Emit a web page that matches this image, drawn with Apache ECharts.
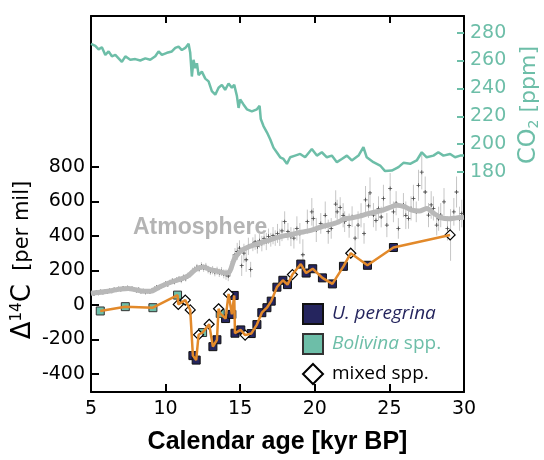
<!DOCTYPE html>
<html>
<head>
<meta charset="utf-8">
<title>Radiocarbon and CO2</title>
<script src="https://cdn.jsdelivr.net/npm/echarts@6/dist/echarts.min.js"></script>
<style>
  html, body { margin: 0; padding: 0; background: #fff; }
  #chart { width: 544px; height: 460px; }
</style>
</head>
<body>
<div id="chart"></div>
<script>
// tick labels
const deltaTicks = [-400, -200, 0, 200, 400, 600, 800];
const co2Ticks = [180, 200, 220, 240, 260, 280];

// ice core CO2 [ppm]
const co2Age = [5.0, 5.13, 5.29, 5.51, 5.73, 5.96, 6.18, 6.40, 6.63, 6.85, 7.07, 7.30, 7.63, 7.97, 8.30, 8.64, 8.97, 9.31, 9.53, 9.75, 10.09, 10.42, 10.65, 10.87, 11.09, 11.32, 11.54, 11.65, 11.76, 11.87, 11.99, 12.10, 12.21, 12.43, 12.66, 12.88, 13.10, 13.33, 13.55, 13.77, 13.99, 14.22, 14.44, 14.60, 14.78, 14.89, 15.0, 15.22, 15.45, 15.78, 16.12, 16.30, 16.38, 16.56, 16.79, 17.01, 17.23, 17.46, 17.68, 17.90, 18.13, 18.35, 18.68, 19.02, 19.35, 19.80, 20.14, 20.47, 20.81, 21.14, 21.48, 21.81, 22.15, 22.48, 22.93, 23.26, 23.48, 23.93, 24.38, 24.71, 25.16, 25.61, 25.94, 26.39, 26.83, 27.17, 27.50, 27.95, 28.28, 28.62, 29.07, 29.40, 29.74, 30.0];
const co2Val = [272, 272, 270.5, 268, 269.5, 264, 266.5, 263, 264, 261.5, 259, 263, 260.5, 261, 260, 261.5, 260.5, 263, 266.5, 264, 265.5, 266.5, 269, 270, 267.5, 269, 272, 265.5, 248.5, 260.5, 254.5, 258, 249.5, 252, 247, 245, 238, 235.5, 240.5, 242.5, 239, 243.5, 240.5, 242.5, 234.5, 226, 232, 228.5, 225, 223.5, 225, 227.5, 218, 213, 208.5, 203.5, 197.5, 194, 190.6, 189.4, 185.9, 190.6, 191.8, 193, 190.6, 196.6, 191.8, 194.2, 190.6, 191.8, 187.1, 189.4, 191.8, 188.3, 191.8, 197.8, 190.6, 187.1, 184.7, 180.7, 181.1, 183.5, 186.6, 185.9, 188.3, 194.2, 190.6, 191.8, 194.2, 191.8, 193, 190.6, 191.8, 191.8];

// atmospheric D14C, smoothed curve
const atmLineAge = [5.0, 5.5, 6.0, 6.5, 7.0, 7.5, 8.0, 8.5, 9.0, 9.5, 10.0, 10.5, 11.0, 11.5, 12.0, 12.5, 13.0, 13.5, 14.0, 14.3, 14.6, 15.0, 15.5, 16.0, 16.5, 17.0, 17.5, 18.0, 18.5, 19.0, 19.5, 20.0, 20.5, 21.0, 21.5, 22.0, 22.5, 23.0, 23.5, 24.0, 24.5, 25.0, 25.5, 26.0, 26.5, 27.0, 27.5, 28.0, 28.5, 29.0, 29.5, 30.0];
const atmLineVal = [68, 72, 78, 85, 92, 95, 88, 80, 80, 100, 120, 136, 150, 168, 205, 220, 205, 195, 185, 195, 265, 310, 335, 350, 365, 378, 392, 402, 410, 420, 428, 440, 455, 465, 478, 500, 505, 515, 528, 538, 548, 565, 578, 570, 550, 545, 560, 530, 505, 500, 505, 508];

// atmospheric D14C, single measurements with 1-sigma
const atmAge = [5.05, 5.2, 5.35, 5.5, 5.65, 5.8, 5.95, 6.1, 6.25, 6.4, 6.55, 6.7, 6.85, 7.0, 7.15, 7.3, 7.45, 7.6, 7.75, 7.9, 8.05, 8.2, 8.35, 8.5, 8.65, 8.8, 8.95, 9.1, 9.25, 9.4, 9.55, 9.7, 9.85, 10.0, 10.15, 10.3, 10.45, 10.6, 10.75, 10.9, 11.05, 11.2, 11.35, 11.5, 11.65, 11.8, 11.95, 12.1, 12.25, 12.4, 12.55, 12.7, 12.85, 13.0, 13.15, 13.3, 13.45, 13.6, 13.75, 13.9, 14.05, 14.2, 14.35, 14.5, 14.65, 14.8, 14.95, 15.1, 15.25, 15.4, 15.55, 15.7, 15.85, 16.0, 16.15, 16.3, 16.45, 16.6, 16.75, 16.9, 17.05, 17.2, 17.35, 17.5, 17.65, 17.8, 17.98, 18.2, 18.4, 18.6, 18.8, 19.0, 19.2, 19.5, 19.8, 19.9, 20.1, 20.4, 20.7, 20.9, 21.1, 21.4, 21.5, 21.7, 21.9, 22.0, 22.3, 22.5, 22.7, 22.9, 23.1, 23.3, 23.4, 23.6, 23.7, 23.93, 24.1, 24.27, 24.45, 24.6, 24.83, 25.05, 25.27, 25.45, 25.6, 25.94, 26.1, 26.28, 26.45, 26.61, 26.8, 26.95, 27.17, 27.4, 27.62, 27.8, 27.95, 28.17, 28.3, 28.44, 28.66, 28.89, 29.1, 29.32, 29.5, 29.7, 29.85];
const atmVal = [70, 64, 74, 68, 78, 72, 80, 76, 84, 80, 90, 86, 94, 90, 98, 94, 100, 92, 96, 88, 84, 90, 78, 82, 74, 80, 76, 86, 94, 102, 98, 108, 116, 124, 118, 132, 140, 134, 146, 152, 144, 160, 154, 170, 178, 196, 205, 218, 210, 226, 214, 222, 205, 196, 202, 190, 198, 186, 194, 180, 176, 168, 205, 250, 290, 310, 330, 228, 300, 262, 340, 205, 352, 365, 338, 372, 356, 385, 368, 398, 378, 402, 388, 415, 392, 430, 483, 425, 396, 387, 444, 415, 291, 483, 540, 502, 435, 473, 520, 425, 444, 585, 540, 565, 520, 483, 460, 512, 387, 463, 520, 415, 610, 575, 650, 521, 490, 560, 510, 617, 463, 675, 540, 590, 444, 579, 520, 502, 560, 617, 540, 694, 770, 655, 521, 580, 560, 463, 500, 521, 598, 444, 406, 540, 655, 500, 530];
const atmErr = [10, 10, 10, 10, 10, 10, 10, 10, 10, 10, 12, 12, 12, 12, 12, 12, 12, 12, 12, 12, 12, 12, 12, 12, 12, 12, 12, 14, 14, 14, 14, 14, 14, 14, 14, 16, 16, 16, 16, 16, 18, 18, 18, 18, 18, 20, 20, 20, 20, 22, 22, 22, 22, 22, 24, 24, 24, 24, 26, 26, 30, 30, 35, 45, 40, 50, 45, 60, 55, 70, 50, 45, 40, 45, 40, 40, 45, 40, 50, 45, 40, 50, 45, 55, 50, 60, 60, 50, 55, 60, 70, 60, 90, 70, 80, 60, 70, 60, 80, 70, 60, 80, 70, 60, 70, 60, 70, 60, 70, 80, 70, 60, 80, 70, 90, 70, 60, 70, 60, 80, 70, 90, 60, 70, 60, 70, 80, 60, 70, 80, 60, 90, 100, 90, 70, 80, 70, 60, 70, 70, 80, 70, 150, 80, 90, 70, 80];

// foraminifera D14C
const perAge = [11.83, 12.05, 13.17, 13.44, 14.02, 14.44, 14.60, 14.65, 15.04, 15.74, 16.12, 16.45, 16.79, 17.08, 17.46, 17.86, 18.17, 19.06, 19.42, 19.86, 20.51, 21.18, 21.92, 23.53, 25.27];
const perVal = [-294, -320, -242, -202, -79, -55, 55, -164, -145, -166, -114, -45, -16, 22, 103, 143, 118, 237, 185, 210, 157, 122, 224, 230, 333];
const bolAge = [5.62, 7.30, 9.15, 10.80, 12.48, 13.66];
const bolVal = [-35, -10, -16, 57, -160, -49];
const mixAge = [10.85, 11.32, 11.65, 12.21, 12.92, 13.55, 14.22, 15.33, 18.50, 22.41, 29.07];
const mixVal = [3, 28, -29, -173, -112, -22, 64, -175, 176, 300, 406];

const GREEN = '#6dbea8';
const NAVY = '#25255e';
const ORANGE = '#e2892a';

const zip = (a, b) => a.map((v, i) => [v, b[i]]);
const perData = zip(perAge, perVal);
const bolData = zip(bolAge, bolVal);
const mixData = zip(mixAge, mixVal);
const foramLine = [...perData, ...bolData, ...mixData].sort((p, q) => p[0] - q[0]);
const atmData = atmAge.map((a, i) => [a, atmVal[i], atmErr[i]]);

const chart = echarts.init(document.getElementById('chart'));

const tickFont = { fontFamily: 'DejaVu Sans', fontSize: 19 };

chart.setOption({
  animation: false,
  grid: { left: 91, right: 80, top: 16, bottom: 65 },
  xAxis: [{
    type: 'value', min: 5, max: 30, interval: 5, position: 'bottom',
    axisLine: { onZero: false, lineStyle: { color: '#000', width: 2 } },
    axisTick: { inside: true, length: 8, lineStyle: { color: '#000', width: 2 } },
    axisLabel: { ...tickFont, color: '#000', margin: 8 },
    splitLine: { show: false },
    name: 'Calendar age [kyr BP]', nameLocation: 'middle', nameGap: 38,
    nameTextStyle: { fontFamily: 'Liberation Sans', fontWeight: 'bold', fontSize: 25, color: '#000' }
  }, {
    type: 'value', min: 5, max: 30, interval: 5, position: 'top',
    axisLine: { onZero: false, lineStyle: { color: '#000', width: 2 } },
    axisTick: { inside: true, length: 7, lineStyle: { color: '#000', width: 2 } },
    axisLabel: { show: false },
    splitLine: { show: false }
  }],
  yAxis: [{
    type: 'value', min: -505, max: 1676, position: 'left',
    axisLine: { show: true, onZero: false, lineStyle: { color: '#000', width: 2 } },
    axisTick: { show: true, inside: true, length: 8, customValues: deltaTicks, lineStyle: { color: '#000', width: 2 } },
    axisLabel: { ...tickFont, customValues: deltaTicks, color: '#000', margin: 6 },
    splitLine: { show: false }
  }, {
    type: 'value', min: 22.3, max: 291.9, position: 'right',
    axisLine: { show: true, onZero: false, lineStyle: { color: '#000', width: 2 } },
    axisTick: { show: true, inside: true, length: 7, customValues: co2Ticks, lineStyle: { color: GREEN, width: 2 } },
    axisLabel: { ...tickFont, customValues: co2Ticks, color: GREEN, margin: 6 },
    splitLine: { show: false }
  }],
  legend: {
    orient: 'vertical', left: 297, top: 298,
    itemWidth: 20, itemHeight: 20, itemGap: 8,
    data: [
      { name: 'U. peregrina', icon: 'rect', textStyle: { color: NAVY, fontStyle: 'italic' } },
      { name: 'Bolivina spp.', icon: 'rect', textStyle: { color: GREEN } },
      { name: 'mixed spp.', icon: 'diamond', textStyle: { color: '#000' } }
    ],
    formatter: name => name === 'Bolivina spp.' ? '{i|Bolivina} spp.' : name,
    textStyle: {
      fontFamily: 'Open Sans', fontSize: 19, lineHeight: 20, padding: [0, 0, 0, 4],
      rich: { i: { fontFamily: 'Open Sans', fontSize: 19, lineHeight: 20, fontStyle: 'italic', color: GREEN } }
    }
  },
  graphic: [
    {
      type: 'text', x: 133, y: 228,
      style: { text: 'Atmosphere', fill: '#b4b4b4', font: 'bold 23px "Liberation Sans"', verticalAlign: 'middle' }
    },
    {
      type: 'text', x: 23, y: 260, rotation: Math.PI / 2,
      style: {
        text: '{a|Δ}{s|14}{a|C}{b|  [per mil]}', align: 'center', verticalAlign: 'middle', fill: '#000',
        rich: {
          a: { fontFamily: 'DejaVu Sans', fontSize: 26, fill: '#000' },
          s: { fontFamily: 'DejaVu Sans', fontSize: 15, fill: '#000', verticalAlign: 'top' },
          b: { fontFamily: 'DejaVu Sans', fontSize: 21, fill: '#000' }
        }
      }
    },
    {
      type: 'text', x: 529, y: 105, rotation: Math.PI / 2,
      style: {
        text: '{a|CO}{s|2}{b| [ppm]}', align: 'center', verticalAlign: 'middle', fill: GREEN,
        rich: {
          a: { fontFamily: 'DejaVu Sans', fontSize: 24, fill: GREEN },
          s: { fontFamily: 'DejaVu Sans', fontSize: 14, fill: GREEN, verticalAlign: 'bottom' },
          b: { fontFamily: 'DejaVu Sans', fontSize: 22, fill: GREEN }
        }
      }
    }
  ],
  series: [
    {
      name: 'CO2', type: 'line', yAxisIndex: 1, data: zip(co2Age, co2Val),
      symbol: 'none', lineStyle: { color: GREEN, width: 2.5 }
    },
    {
      name: 'atm error', type: 'custom', data: atmData,
      encode: { x: 0, y: 1 },
      renderItem: (params, api) => {
        const x = api.value(0), v = api.value(1), e = api.value(2);
        const top = api.coord([x, v + e]);
        const bot = api.coord([x, v - e]);
        return {
          type: 'line',
          shape: { x1: top[0], y1: top[1], x2: bot[0], y2: bot[1] },
          style: { stroke: '#c6c6c6', lineWidth: 1 }
        };
      }
    },
    {
      name: 'atm curve', type: 'line', data: zip(atmLineAge, atmLineVal),
      symbol: 'none', smooth: 0.3, lineStyle: { color: '#b8b8b8', width: 5 }
    },
    {
      name: 'atm points', type: 'scatter', data: atmData,
      symbol: 'path://M2,0h1v5h-1z M0,2h5v1h-5z', symbolSize: 4,
      itemStyle: { color: '#444', opacity: 1 }
    },
    {
      name: 'forams', type: 'line', data: foramLine,
      symbol: 'none', lineStyle: { color: ORANGE, width: 2.5 }
    },
    {
      name: 'U. peregrina', type: 'scatter', data: perData,
      symbol: 'rect', symbolSize: 8,
      itemStyle: { color: NAVY, borderColor: '#111', borderWidth: 1, opacity: 1 }
    },
    {
      name: 'Bolivina spp.', type: 'scatter', data: bolData,
      symbol: 'rect', symbolSize: 8,
      itemStyle: { color: GREEN, borderColor: '#333', borderWidth: 1, opacity: 1 }
    },
    {
      name: 'mixed spp.', type: 'scatter', data: mixData,
      symbol: 'diamond', symbolSize: 10,
      itemStyle: { color: '#fff', borderColor: '#000', borderWidth: 1.2, opacity: 1 }
    }
  ]
});
</script>
</body>
</html>
